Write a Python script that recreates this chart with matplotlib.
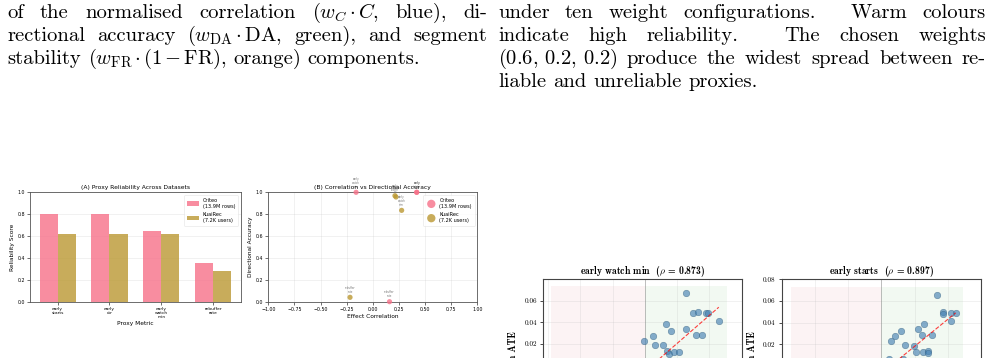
import numpy as np
import matplotlib
matplotlib.use("Agg")
import matplotlib.pyplot as plt

plt.rcParams["mathtext.fontset"] = "cm"
plt.rcParams["axes.unicode_minus"] = False
plt.rcParams["font.family"] = ["DejaVu Sans"]

# ---------------- data ----------------
proxy_labels = ["early\nstarts", "early\nctr", "early\nwatch\nmin", "rebuffer\nrate"]
criteo_reliability = [0.80, 0.80, 0.65, 0.35]
kuairec_reliability = [0.62, 0.62, 0.615, 0.28]

criteo_corr = [0.42, 0.42, -0.16, 0.16]
criteo_dir_acc = [1.0, 1.0, 1.0, 0.0]
kuairec_corr = [0.212, 0.222, 0.276, -0.218]
kuairec_dir_acc = [0.969, 0.957, 0.835, 0.04]

watch_proxy_ate = [-0.0002, 0.0024, 0.0031, 0.0066, 0.0081, 0.0057, 0.0068, 0.0076,
                   0.0091, 0.0106, 0.0127, 0.0128, 0.0149, 0.0164, 0.0159, 0.0176,
                   0.0189, 0.0197, 0.0229]
watch_main_ate = [0.0225, 0.0271, 0.0188, 0.0385, 0.0317, 0.0185, 0.0129, 0.0108,
                  0.0120, 0.0120, 0.0665, 0.0336, 0.0486, 0.0493, 0.0281, 0.0281,
                  0.0480, 0.0486, 0.0415]
watch_fit = [2.59, -0.0055]
watch_rho = 0.873

starts_proxy_ate = [0.0169, 0.0185, 0.0187, 0.0211, 0.0224, 0.0210, 0.0129, 0.0110,
                    0.0123, 0.0152, 0.0058, 0.0042, 0.0030, 0.0072, 0.0099, 0.0105,
                    0.0124, 0.0140, 0.0141, 0.0022, 0.0065]
starts_main_ate = [0.0657, 0.0494, 0.0476, 0.0491, 0.0485, 0.0414, 0.0383, 0.0340,
                   0.0284, 0.0281, 0.0321, 0.0275, 0.0226, 0.0192, 0.0185, 0.0130,
                   0.0130, 0.0133, 0.0120, 0.0065, 0.0065]
starts_fit = [2.50, -0.0070]
starts_rho = 0.897

left_lines = [
    ["of", "the", "normalised", "correlation", r"($w_C\,{\cdot}\,C$,", "blue),", "di-"],
    ["rectional", "accuracy", r"($w_{\mathrm{DA}}\,{\cdot}\,\mathrm{DA}$,", "green),", "and", "segment"],
    ["stability", r"($w_{\mathrm{FR}}\,{\cdot}\,(1\,{-}\,\mathrm{FR})$,", "orange)", "components."],
]
right_lines = [
    ["under", "ten", "weight", "configurations.", "Warm", "colours"],
    ["indicate", "high", "reliability.", "The", "chosen", "weights"],
    [r"$(0.6,\,0.2,\,0.2)$", "produce", "the", "widest", "spread", "between", "re-"],
    ["liable", "and", "unreliable", "proxies."],
]

# ---------------- figure ----------------
W, H = 991, 358
fig = plt.figure(figsize=(W / 100, H / 100), dpi=100)
renderer = fig.canvas.get_renderer()


def px_axes(l, t, r, b):
    return fig.add_axes([l / W, 1 - b / H, (r - l) / W, (b - t) / H])


SPACE_EM = 0.333
SENT_EM = 0.444


def word_widths(words, fs):
    objs = [fig.text(0, 0, w, fontsize=fs, family="cmr10") for w in words]
    ws = [o.get_window_extent(renderer).width for o in objs]
    for o in objs:
        o.remove()
    return ws


# calibrate body font size from the printed width of the last right-hand line
ws10 = word_widths(right_lines[-1], 10)
em10 = 10 * 100 / 72
FS = 1.12 * 10 * 232 / (sum(ws10) + (len(ws10) - 1) * SPACE_EM * em10)
EM = FS * 100 / 72


def text_line(words, x0, x1, y, justify=True):
    objs = [fig.text(0, 1 - y / H, w, fontsize=FS, family="cmr10", va="baseline", ha="left")
            for w in words]
    widths = [o.get_window_extent(renderer).width for o in objs]
    nat, stretch = [], []
    for w in words[:-1]:
        if w.endswith("."):
            nat.append(SENT_EM * EM)
            stretch.append(3.0)
        else:
            nat.append(SPACE_EM * EM)
            stretch.append(1.0)
    if justify and len(words) > 1:
        extra = (x1 - x0 - sum(widths) - sum(nat)) / sum(stretch)
        gaps = [n + s * extra for n, s in zip(nat, stretch)]
    else:
        gaps = nat
    gaps.append(0)
    x = x0
    for o, wd, g in zip(objs, widths, gaps):
        o.set_x(x / W)
        x += wd + g


baselines = [18.0, 41.0, 64.0, 87.0]
for i, words in enumerate(left_lines):
    text_line(words, 7, 487, baselines[i], justify=(i < len(left_lines) - 1))
for i, words in enumerate(right_lines):
    text_line(words, 498, 986, baselines[i], justify=(i < len(right_lines) - 1))

# ---------------- panel A ----------------
pink = "#f77189"
gold = "#bb9832"
axA = px_axes(30, 192.3, 240.7, 301.7)
x = np.arange(len(proxy_labels))
bw = 0.35
axA.bar(x - bw / 2, criteo_reliability, bw, color=pink, alpha=0.8, label="Criteo\n(13.9M rows)")
axA.bar(x + bw / 2, kuairec_reliability, bw, color=gold, alpha=0.8, label="KuaiRec\n(7.2K users)")
axA.set_xticks(x)
axA.set_xticklabels(proxy_labels, fontsize=3.2, linespacing=1.0)
axA.set_ylim(0, 1.0)
axA.set_yticks(np.arange(0, 1.01, 0.2))
axA.tick_params(axis="y", labelsize=3.4, length=2, width=0.4, pad=1.5)
axA.tick_params(axis="x", length=2, width=0.4, pad=1.5)
axA.set_ylabel("Reliability Score", fontsize=4.2, labelpad=2)
axA.set_xlabel("Proxy Metric", fontsize=4.2, labelpad=2)
axA.set_title("(A) Proxy Reliability Across Datasets", fontsize=4.3, pad=2.5)
axA.grid(axis="y", alpha=0.3, lw=0.4)
axA.set_axisbelow(True)
lgA = axA.legend(fontsize=3.6, loc="upper right", framealpha=0.8, borderpad=0.6,
                 handlelength=2.4, handleheight=1.0, labelspacing=0.7, edgecolor="#dddddd")
lgA.get_frame().set_linewidth(0.4)
for s in axA.spines.values():
    s.set_linewidth(0.6)
    s.set_color("#555555")

# ---------------- panel B ----------------
axB = px_axes(268.3, 192.3, 477.3, 301.7)
axB.scatter(criteo_corr, criteo_dir_acc, s=14, color=pink, alpha=0.8, clip_on=False,
            edgecolors="none", label="Criteo\n(13.9M rows)", zorder=3)
axB.scatter(kuairec_corr, kuairec_dir_acc, s=14, color=gold, alpha=0.8, clip_on=False,
            edgecolors="none", label="KuaiRec\n(7.2K users)", zorder=3)
for cx, cy, lab in zip(criteo_corr, criteo_dir_acc, proxy_labels):
    axB.annotate(lab, (cx, cy), xytext=(0, 2.5), textcoords="offset points", fontsize=1.9,
                 ha="center", va="bottom", color="#777777", linespacing=1.0,
                 annotation_clip=False)
for cx, cy, lab in zip(kuairec_corr, kuairec_dir_acc, proxy_labels):
    axB.annotate(lab, (cx, cy), xytext=(0, 2.5), textcoords="offset points", fontsize=1.9,
                 ha="center", va="bottom", color="#777777", linespacing=1.0,
                 annotation_clip=False)
axB.set_xlim(-1, 1)
axB.set_ylim(0, 1.0)
xt = np.arange(-1, 1.01, 0.25)
axB.set_xticks(xt)
axB.set_xticklabels([f"{v:.2f}".replace("-", "\u2212") for v in xt])
axB.set_yticks(np.arange(0, 1.01, 0.2))
axB.tick_params(labelsize=3.4, length=2, width=0.4, pad=1.5)
axB.set_xlabel("Effect Correlation", fontsize=4.2, labelpad=2)
axB.set_ylabel("Directional Accuracy", fontsize=4.2, labelpad=2)
axB.set_title("(B) Correlation vs Directional Accuracy", fontsize=4.3, pad=2.5)
axB.grid(alpha=0.3, lw=0.4)
axB.set_axisbelow(True)
lgB = axB.legend(fontsize=3.6, loc="upper right", framealpha=0.8, borderpad=0.6,
                 labelspacing=0.7, edgecolor="#dddddd", markerscale=1.6, handletextpad=0.6)
lgB.get_frame().set_linewidth(0.4)
for s in axB.spines.values():
    s.set_linewidth(0.6)
    s.set_color("#555555")


# ---------------- bottom-right scatter panels ----------------
def scatter_panel(l, r, xlim, ytop, px, py, fit, rho, name, shade_x, shade_top, show_top_tick):
    ybot = -0.02
    t = 279.3
    b = t + (ytop - ybot) * 1082
    ax = px_axes(l, t, r, b)
    ax.set_xlim(*xlim)
    ax.set_ylim(ybot, ytop)
    ax.fill_between([shade_x[0], 0], ybot, shade_top, color="#d62728", alpha=0.05, lw=0, zorder=0)
    ax.fill_between([0, shade_x[1]], ybot, shade_top, color="#2ca02c", alpha=0.06, lw=0, zorder=0)
    ax.axvline(0, color="gray", lw=0.7, alpha=0.45, zorder=1)
    ax.scatter(px, py, s=22, color="steelblue", alpha=0.65, edgecolors="#35607f",
               linewidths=0.4, zorder=3)
    xs = np.array([min(px), max(px)])
    ax.plot(xs, fit[0] * xs + fit[1], color="red", ls="--", lw=0.8, alpha=0.75, zorder=4)
    ax.set_xticks(np.arange(-0.03, 0.0301, 0.01))
    yt = [-0.02, 0.0, 0.02, 0.04, 0.06] + ([0.08] if show_top_tick else [])
    ax.set_yticks(yt)
    ax.set_yticklabels([f"{v:.2f}" for v in yt], family="cmr10")
    ax.tick_params(labelsize=5.2, length=2.5, width=0.5, pad=2)
    ax.grid(alpha=0.25, lw=0.5)
    ax.set_axisbelow(True)
    for s in ax.spines.values():
        s.set_linewidth(0.8)
        s.set_color("#444444")
    ax.set_title(name + "  ($\\rho$ = %.3f)" % rho, fontsize=7.0, family="cmb10", pad=4)
    return ax


ax1 = scatter_panel(543.3, 741.7, (-0.0315, 0.028), 0.0796, watch_proxy_ate, watch_main_ate,
                    watch_fit, watch_rho, "early watch min", (-0.0290, 0.0253), 0.0733, False)
ax2 = scatter_panel(781.7, 981.0, (-0.0297, 0.0272), 0.0800, starts_proxy_ate, starts_main_ate,
                    starts_fit, starts_rho, "early starts", (-0.0271, 0.0247), 0.0726, True)

fig.text(513 / W, 1 - 331 / H, "Retention ATE", rotation=90, ha="center", va="top",
         fontsize=7.0, family="cmb10")
fig.text(752 / W, 1 - 331 / H, "Retention ATE", rotation=90, ha="center", va="top",
         fontsize=7.0, family="cmb10")

fig.savefig("out.png", dpi=100, facecolor="white")
